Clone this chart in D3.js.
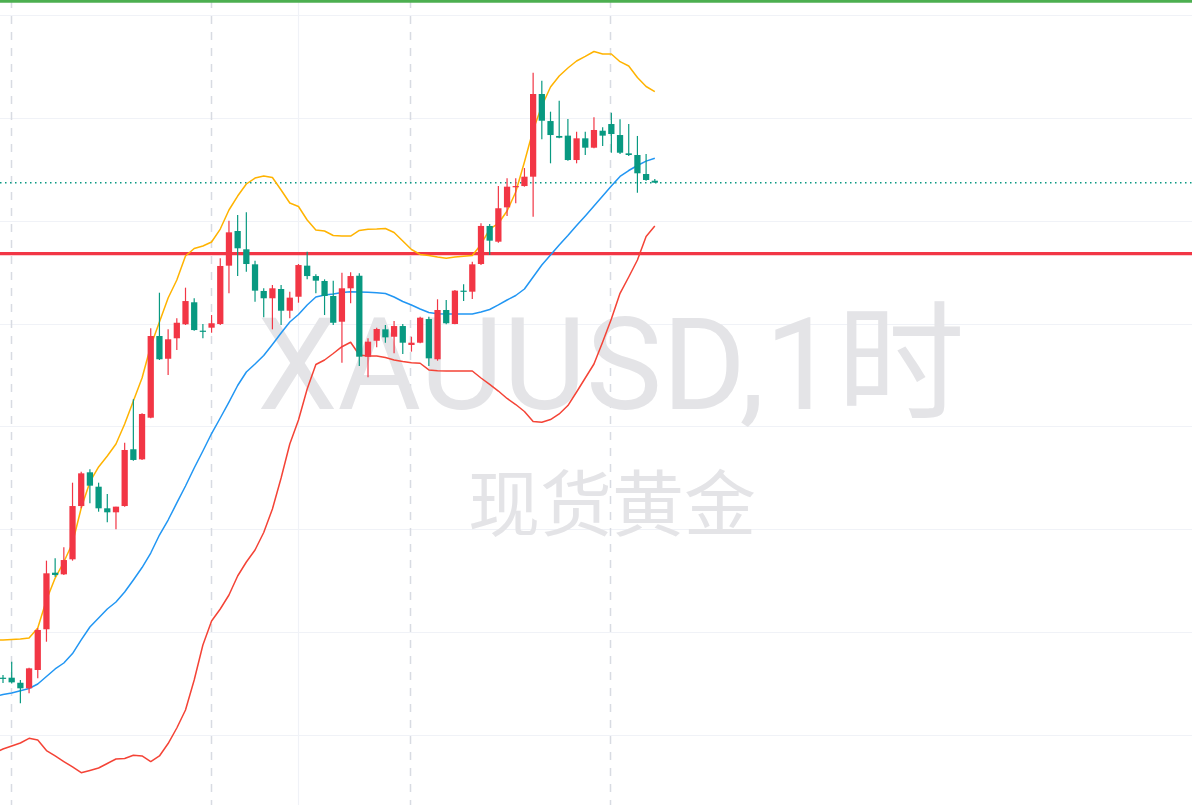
<!DOCTYPE html>
<html>
<head>
<meta charset="utf-8">
<script src="https://cdn.jsdelivr.net/npm/d3@7"></script>
<style>
  html, body { margin: 0; padding: 0; background: #fff; overflow: hidden; }
  svg { display: block; }
</style>
</head>
<body>
<svg id="chart"></svg>
<script>
// XAUUSD 1h candles, index 0 is the leftmost visible bar
const opens = [
  2305.57, 2305.57, 2305.08, 2304.54, 2306.32, 2310.28, 2315.78, 2315.62, 2317.08, 2322.26,
  2325.54, 2324.14, 2322.04, 2321.65, 2322.26, 2327.78, 2326.80, 2330.85, 2338.79, 2336.58,
  2338.57, 2339.93, 2342.07, 2339.31, 2339.60, 2339.96, 2345.63, 2349.00, 2347.22, 2345.76,
  2343.17, 2342.46, 2343.36, 2341.25, 2342.61, 2345.63, 2344.62, 2344.14, 2342.68, 2340.18,
  2343.43, 2344.65, 2336.78, 2338.33, 2339.44, 2338.72, 2339.76, 2337.92, 2338.14, 2340.44,
  2336.53, 2341.32, 2339.96, 2343.20, 2343.10, 2345.79, 2349.49, 2347.96, 2351.30, 2353.25,
  2353.37, 2354.28, 2362.32, 2359.69, 2358.24, 2358.27, 2355.90, 2358.01, 2357.10, 2358.75,
  2359.40, 2358.33, 2356.55, 2356.39, 2354.54, 2353.89
]
const highs = [
  2305.83, 2307.13, 2305.35, 2306.54, 2310.37, 2316.95, 2317.18, 2318.25, 2324.53, 2325.60,
  2325.83, 2324.53, 2323.43, 2322.20, 2328.42, 2332.64, 2331.28, 2339.54, 2343.00, 2339.44,
  2340.51, 2343.49, 2342.46, 2339.96, 2340.83, 2346.35, 2350.00, 2350.56, 2350.82, 2346.11,
  2343.43, 2343.75, 2343.75, 2343.10, 2345.79, 2346.99, 2344.79, 2344.30, 2344.17, 2344.95,
  2344.98, 2344.89, 2338.57, 2339.60, 2339.86, 2340.25, 2339.96, 2338.72, 2340.67, 2340.67,
  2342.36, 2342.29, 2343.26, 2343.82, 2346.02, 2349.75, 2349.68, 2353.37, 2354.12, 2354.12,
  2355.12, 2364.39, 2363.61, 2360.60, 2361.67, 2359.89, 2358.65, 2358.65, 2360.05, 2359.08,
  2360.50, 2359.86, 2359.40, 2358.24, 2356.49, 2354.06
]
const lows = [
  2305.06, 2305.01, 2303.08, 2304.05, 2305.51, 2309.07, 2315.39, 2315.56, 2316.95, 2322.04,
  2322.53, 2321.71, 2320.68, 2320.00, 2322.20, 2326.67, 2326.74, 2330.79, 2336.46, 2335.00,
  2337.43, 2339.86, 2339.31, 2338.57, 2339.11, 2339.86, 2342.94, 2344.62, 2345.04, 2342.13,
  2340.61, 2339.44, 2339.86, 2340.51, 2342.03, 2344.30, 2342.94, 2340.83, 2339.86, 2336.20,
  2341.97, 2335.87, 2334.78, 2337.69, 2338.14, 2337.11, 2337.04, 2337.27, 2338.08, 2335.87,
  2336.39, 2339.93, 2339.93, 2342.19, 2342.39, 2345.69, 2346.67, 2347.86, 2350.46, 2351.69,
  2353.31, 2350.39, 2357.92, 2355.58, 2358.01, 2355.83, 2355.58, 2356.39, 2357.04, 2357.26,
  2356.61, 2356.49, 2356.29, 2352.72, 2353.89, 2353.70
]
const closes = [
  2305.49, 2305.12, 2304.54, 2306.48, 2310.21, 2315.72, 2315.56, 2317.01, 2322.26, 2325.44,
  2324.24, 2322.04, 2321.65, 2322.20, 2327.71, 2326.74, 2331.21, 2338.79, 2336.53, 2338.47,
  2340.08, 2342.19, 2339.37, 2339.21, 2340.03, 2345.60, 2348.87, 2347.32, 2345.79, 2343.20,
  2342.46, 2343.43, 2341.25, 2342.52, 2345.69, 2344.62, 2344.17, 2342.68, 2340.08, 2343.43,
  2344.62, 2336.78, 2338.24, 2339.47, 2338.66, 2339.76, 2338.14, 2338.14, 2340.57, 2336.62,
  2341.32, 2340.03, 2343.20, 2343.10, 2345.76, 2349.49, 2348.06, 2351.21, 2353.31, 2353.37,
  2354.28, 2362.32, 2359.72, 2358.33, 2358.07, 2355.90, 2358.01, 2357.10, 2358.82, 2358.27,
  2358.43, 2356.61, 2356.39, 2354.61, 2353.96, 2353.70
]

// Bollinger bands start one bar before the first visible candle
const bandStart = -1
const upperBand = [
  2309.24, 2309.24, 2309.28, 2309.33, 2309.43, 2310.40, 2313.12, 2315.26, 2316.82, 2318.67, 2322.07,
  2324.60, 2326.06, 2327.12, 2328.29, 2330.24, 2332.47, 2334.71, 2337.82, 2340.15, 2342.49,
  2344.24, 2346.57, 2347.30, 2347.54, 2347.93, 2349.19, 2351.04, 2352.40, 2353.57, 2354.15,
  2354.35, 2354.20, 2352.99, 2351.72, 2351.38, 2350.07, 2349.10, 2349.00, 2348.56, 2348.51,
  2348.51, 2349.05, 2349.16, 2349.19, 2349.24, 2348.85, 2348.03, 2347.20, 2346.72, 2346.62,
  2346.47, 2346.35, 2346.47, 2346.54, 2346.62, 2347.69, 2349.19, 2349.73, 2350.94, 2352.79,
  2355.71, 2358.82, 2361.15, 2363.00, 2364.07, 2364.85, 2365.53, 2365.97, 2366.45, 2366.21,
  2366.21, 2365.46, 2365.04, 2363.92, 2363.05, 2362.56
]
const middleBand = [
  2303.74, 2303.94, 2304.08, 2304.30, 2304.52, 2304.96, 2305.69, 2306.42, 2307.00, 2307.92, 2309.24,
  2310.50, 2311.37, 2312.25, 2312.93, 2313.90, 2315.07, 2316.28, 2317.69, 2319.44, 2320.90,
  2322.56, 2324.21, 2325.96, 2327.61, 2329.31, 2330.82, 2332.37, 2333.98, 2335.29, 2336.07,
  2336.90, 2337.97, 2339.08, 2340.15, 2340.88, 2341.81, 2342.58, 2342.78, 2342.87, 2343.02,
  2343.10, 2343.07, 2343.05, 2342.99, 2342.92, 2342.58, 2342.15, 2341.81, 2341.42, 2341.08,
  2340.95, 2340.93, 2340.93, 2340.93, 2340.93, 2341.12, 2341.37, 2341.81, 2342.29, 2342.73,
  2343.36, 2344.53, 2345.69, 2346.67, 2347.64, 2348.56, 2349.53, 2350.46, 2351.43, 2352.40,
  2353.37, 2354.30, 2354.88, 2355.37, 2355.79, 2356.07
]
const lowerBand = [
  2298.25, 2298.64, 2298.93, 2299.22, 2299.68, 2299.51, 2298.49, 2297.96, 2297.42, 2296.89, 2296.33,
  2296.55, 2296.79, 2297.23, 2297.67, 2297.71, 2298.03, 2297.96, 2297.42, 2297.96, 2299.17,
  2300.68, 2302.43, 2305.35, 2308.75, 2311.08, 2312.25, 2313.61, 2315.46, 2316.82, 2317.99,
  2319.69, 2321.97, 2324.99, 2328.29, 2330.62, 2333.64, 2336.02, 2336.46, 2337.09, 2337.75,
  2338.18, 2336.94, 2336.85, 2336.85, 2336.70, 2336.46, 2336.31, 2336.20, 2336.14, 2335.49,
  2335.42, 2335.39, 2335.39, 2335.39, 2335.39, 2334.71, 2334.08, 2333.44, 2332.72, 2332.13,
  2331.45, 2330.48, 2330.40, 2330.67, 2331.21, 2332.03, 2333.35, 2334.71, 2336.07, 2338.21,
  2340.44, 2342.94, 2344.53, 2346.18, 2348.47, 2349.49
]

const gridPrices = [2300, 2310, 2320, 2330, 2340, 2350, 2360, 2370]
const timeGrid = [34]
const dayBreaks = [1, 24, 47, 70]
const redLevel = 2346.8
const greenLevel = 2371.33
const watermark = ['XAUUSD,1时', '现货黄金']

const W = 1192, H = 805
const upColor = '#f23645', downColor = '#089981'

let svg = d3.select('#chart').attr('width', W).attr('height', H)

let x = d3.scaleLinear().domain([0, closes.length - 1]).range([3, 654.8])
let y = d3.scaleLinear().domain([2300, 2370]).range([735, 15])
let bodyW = (x(1) - x(0)) * 0.72

// grid
let grid = svg.append('g')
grid.selectAll('.hgrid').data(gridPrices).join('line')
  .attr('x1', 0).attr('x2', W)
  .attr('y1', d => Math.round(y(d)) + 0.5).attr('y2', d => Math.round(y(d)) + 0.5)
  .attr('stroke', '#f0f2f7').attr('stroke-width', 1.2)
grid.selectAll('.vgrid').data(timeGrid).join('line')
  .attr('x1', d => Math.round(x(d)) + 0.5).attr('x2', d => Math.round(x(d)) + 0.5)
  .attr('y1', 0).attr('y2', H)
  .attr('stroke', '#f0f2f7').attr('stroke-width', 1.2)
grid.selectAll('.dbreak').data(dayBreaks).join('line')
  .attr('x1', d => Math.round(x(d)) - 0.5).attr('x2', d => Math.round(x(d)) - 0.5)
  .attr('y1', 0).attr('y2', H)
  .attr('stroke', '#d8dbe2').attr('stroke-width', 1.5)
  .attr('stroke-dasharray', '8,8')

// watermark
svg.append('text')
  .attr('x', 611).attr('y', 409)
  .attr('text-anchor', 'middle')
  .style('font-family', 'Roboto, "Noto Sans CJK SC", sans-serif')
  .style('font-size', '128px')
  .attr('fill', '#e4e4e7')
  .text(watermark[0])
svg.append('text')
  .attr('x', 612).attr('y', 530)
  .attr('text-anchor', 'middle')
  .style('font-family', '"Noto Sans CJK SC", sans-serif')
  .style('font-size', '72px')
  .attr('fill', '#e4e4e7')
  .text(watermark[1])

// horizontal levels
svg.append('line')
  .attr('x1', 0).attr('x2', W)
  .attr('y1', y(greenLevel)).attr('y2', y(greenLevel))
  .attr('stroke', '#4caf50').attr('stroke-width', 3)
svg.append('line')
  .attr('x1', 0).attr('x2', W)
  .attr('y1', y(redLevel)).attr('y2', y(redLevel))
  .attr('stroke', upColor).attr('stroke-width', 3.2)
let last = closes[closes.length - 1]
svg.append('line')
  .attr('x1', 0).attr('x2', W)
  .attr('y1', y(last)).attr('y2', y(last))
  .attr('stroke', downColor).attr('stroke-width', 1.5)
  .attr('stroke-dasharray', '1.5,3.5')

// bollinger bands
let band = d3.line().x((d, i) => x(i + bandStart)).y(d => y(d))
let bands = [
  {values: lowerBand, color: '#f44336'},
  {values: middleBand, color: '#2196f3'},
  {values: upperBand, color: '#ffb300'}
]
svg.append('g').selectAll('path').data(bands).join('path')
  .attr('d', d => band(d.values))
  .attr('fill', 'none')
  .attr('stroke', d => d.color)
  .attr('stroke-width', 1.5)
  .attr('stroke-linejoin', 'round')

// candles
let candles = closes.map((c, i) => ({i: i, o: opens[i], h: highs[i], l: lows[i], c: c}))
let cg = svg.append('g').selectAll('g').data(candles).join('g')
  .attr('fill', d => d.c >= d.o ? upColor : downColor)
  .attr('stroke', d => d.c >= d.o ? upColor : downColor)
cg.append('line')
  .attr('x1', d => x(d.i)).attr('x2', d => x(d.i))
  .attr('y1', d => y(d.h)).attr('y2', d => y(d.l))
  .attr('stroke-width', 1.2)
cg.append('rect')
  .attr('x', d => x(d.i) - bodyW / 2)
  .attr('width', bodyW)
  .attr('y', d => y(Math.max(d.o, d.c)))
  .attr('height', d => Math.max(1.2, Math.abs(y(d.o) - y(d.c))))
  .attr('stroke', 'none')
</script>
</body>
</html>
